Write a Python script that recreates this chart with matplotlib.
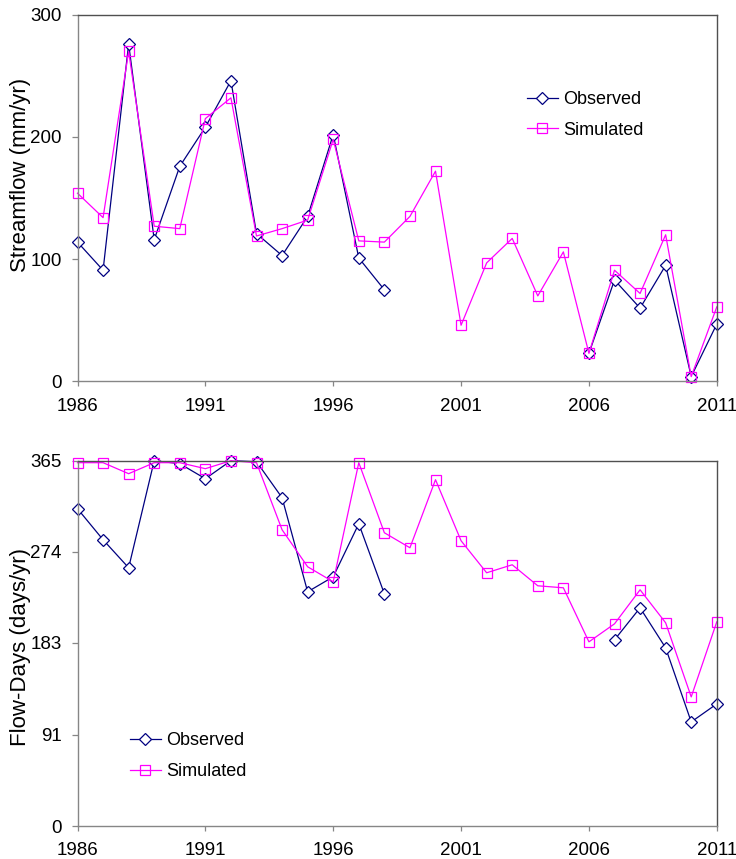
import matplotlib
matplotlib.use("Agg")
import matplotlib.pyplot as plt
import numpy as np

plt.rcParams["font.family"] = ["Liberation Sans", "DejaVu Sans"]

CAMINHO_SAIDA = "out.png"

ANOS = list(range(1986, 2012))
nan = np.nan

# vazão anual (mm/ano)
VAZAO_OBS = [114, 91, 276, 116, 176, 208, 246, 121, 103, 135, 202, 101, 75,
             nan, nan, nan, nan, nan, nan, nan,
             23, 83, 60, 95, 4, 47]
VAZAO_SIM = [154, 134, 270, 127, 125, 215, 232, 119, 125, 132, 198, 115, 114,
             135, 172, 46, 97, 117, 70, 106, 23, 91, 72, 120, 4, 61]

# dias com escoamento (dias/ano)
DIAS_OBS = [317, 286, 258, 365, 362, 347, 365, 364, 328, 234, 249, 302, 232,
            nan, nan, nan, nan, nan, nan, nan, nan,
            186, 218, 178, 104, 122]
DIAS_SIM = [363, 363, 352, 363, 363, 357, 365, 363, 296, 259, 244, 363, 293,
            278, 346, 285, 253, 261, 240, 238, 184, 202, 236, 203, 129, 204]

TICKS_X = [1986, 1991, 1996, 2001, 2006, 2011]
TICKS_VAZAO = [0, 100, 200, 300]
TICKS_DIAS = [0, 91, 183, 274, 365]

COR_OBS = "#000080"
COR_SIM = "#ff00ff"
COR_EIXO = "#868686"
COR_BORDA = "#505050"

fig = plt.figure(figsize=(7.36, 8.59), dpi=100)
ax1 = fig.add_axes([0.1053, 0.5559, 0.8686, 0.4270])
ax2 = fig.add_axes([0.1053, 0.0384, 0.8686, 0.4253])


def desenha(ax, obs, sim, ticks_y, ylim, rotulo, pos_legenda, y_rotulo):
    ax.plot(ANOS, obs, color=COR_OBS, lw=0.9, marker="D", ms=6.6,
            mfc="white", mec=COR_OBS, mew=0.9, label="Observed", clip_on=False)
    ax.plot(ANOS, sim, color=COR_SIM, lw=0.9, marker="s", ms=7.2,
            mfc="none", mec=COR_SIM, mew=0.9, label="Simulated", clip_on=False)
    ax.set_xlim(1986, 2011)
    ax.set_ylim(*ylim)
    ax.set_xticks(TICKS_X)
    ax.set_yticks(ticks_y)
    ax.tick_params(axis="both", direction="out", colors=COR_EIXO,
                   labelcolor="black", labelsize=13.5, width=0.9)
    ax.tick_params(axis="x", length=3.6, pad=8)
    ax.tick_params(axis="y", length=4.3, pad=7)
    ax.spines["left"].set_color(COR_EIXO)
    ax.spines["bottom"].set_color(COR_EIXO)
    ax.spines["top"].set_color(COR_BORDA)
    ax.spines["right"].set_color(COR_BORDA)
    for spine in ax.spines.values():
        spine.set_linewidth(1.0)
    ax.set_ylabel(rotulo, fontsize=16)
    ax.yaxis.set_label_coords(-0.073, y_rotulo)
    ax.legend(loc="upper left", bbox_to_anchor=pos_legenda, frameon=False,
              fontsize=13, borderpad=0, borderaxespad=0, handlelength=1.7,
              handletextpad=0.3, labelspacing=0.75)


desenha(ax1, VAZAO_OBS, VAZAO_SIM, TICKS_VAZAO, (0, 300),
        "Streamflow (mm/yr)", (0.703, 0.792), 0.562)
desenha(ax2, DIAS_OBS, DIAS_SIM, TICKS_DIAS, (0, 365),
        "Flow-Days (days/yr)", (0.082, 0.256), 0.489)

fig.savefig(CAMINHO_SAIDA, dpi=100)
